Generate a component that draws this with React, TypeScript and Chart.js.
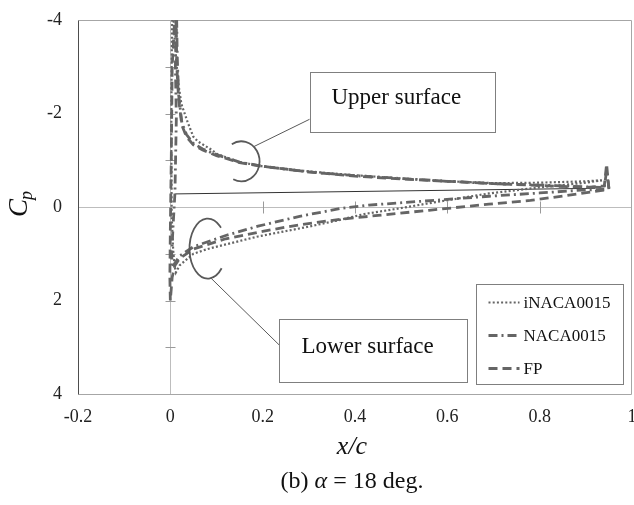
import React, { useEffect, useRef } from 'react';
import { Chart, registerables } from 'chart.js';

Chart.register(...registerables);

// ---------- data (x/c, Cp) ----------
const seriesLabels = ['iNACA0015', 'NACA0015', 'FP'];

const iNacaX = [0.935, 0.9, 0.8, 0.7, 0.6, 0.5, 0.4, 0.3, 0.2, 0.15, 0.1, 0.09, 0.06, 0.05, 0.038, 0.024, 0.018, 0.012, 0.008, 0.005, 0.003, 0.002, 0.003, 0.006, 0.009, 0.012, 0.02, 0.05, 0.08, 0.12, 0.19, 0.3, 0.37, 0.42, 0.49, 0.56, 0.69, 0.8, 0.9, 0.935];
const iNacaCp = [-0.57, -0.55, -0.52, -0.51, -0.55, -0.61, -0.68, -0.76, -0.87, -0.96, -1.14, -1.22, -1.4, -1.5, -1.8, -2.2, -2.6, -3.2, -3.8, -4.6, -3.2, -1.5, 0.2, 0.9, 1.25, 1.4, 1.25, 1.0, 0.9, 0.8, 0.63, 0.42, 0.27, 0.15, 0.04, -0.08, -0.29, -0.42, -0.52, -0.57];

const nacaX = [0.95, 0.945, 0.94, 0.9, 0.8, 0.7, 0.6, 0.5, 0.4, 0.3, 0.2, 0.15, 0.1, 0.07, 0.05, 0.035, 0.025, 0.018, 0.015, 0.013, 0.011, 0.013, 0.01, 0.006, 0.003, 0.004, 0.01, 0.02, 0.05, 0.12, 0.19, 0.28, 0.37, 0.43, 0.54, 0.69, 0.8, 0.89, 0.94];
const nacaCp = [-0.4, -0.78, -0.42, -0.43, -0.47, -0.5, -0.55, -0.61, -0.67, -0.75, -0.87, -0.96, -1.12, -1.24, -1.36, -1.55, -1.8, -2.4, -3.2, -4.5, -3.0, -1.9, -0.3, 0.4, 1.0, 1.3, 1.2, 1.05, 0.85, 0.61, 0.41, 0.2, 0.03, -0.04, -0.12, -0.23, -0.3, -0.36, -0.38];

const fpX = [0.95, 0.945, 0.94, 0.9, 0.8, 0.7, 0.6, 0.5, 0.4, 0.3, 0.2, 0.15, 0.1, 0.07, 0.05, 0.035, 0.025, 0.018, 0.014, 0.012, 0.004, 0.002, 0.0, -0.001, 0.0, 0.004, 0.01, 0.02, 0.05, 0.12, 0.2, 0.28, 0.37, 0.45, 0.56, 0.69, 0.78, 0.89, 0.94];
const fpCp = [-0.38, -0.92, -0.45, -0.42, -0.46, -0.5, -0.55, -0.6, -0.66, -0.75, -0.87, -0.95, -1.1, -1.22, -1.33, -1.5, -1.75, -2.3, -3.0, -4.5, -3.0, -1.0, 0.5, 1.5, 2.0, 1.5, 1.25, 1.1, 0.9, 0.68, 0.52, 0.38, 0.26, 0.18, 0.07, -0.06, -0.14, -0.29, -0.36];

const chordX = [0.011, 0.92];
const chordCp = [-0.28, -0.4];

const axisMarksCp = [-3, -2, -1, 1, 2, 3];
const axisMarksX = [0.2, 0.4, 0.6, 0.8];
const calloutLabels = ['Upper surface', 'Lower surface'];

// ---------- styles ----------
const FONT = '"Liberation Serif", "Times New Roman", serif';
const LINE = '#656565';

const callouts = [
  { box: [0.3015, 0.704, -2.88, -1.6], arc: [0.1536, -0.978], rx: 18.3, ry: 20, start: -121, end: 116, lead: -47, anchor: [0.3015, -1.876], textDx: 21, textDy: 31.5 },
  { box: [0.236, 0.642, 2.4, 3.75], arc: [0.0812, 0.89], rx: 18.3, ry: 30, start: 41, end: 316, lead: 80, anchor: [0.2365, 2.958], textDx: 22, textDy: 33 },
];

const pts = (xs: number[], ys: number[]) => xs.map((x, i) => ({ x, y: ys[i] }));
const fmt = (v: number) => String(Number(Number(v).toFixed(1)));

function seg(ctx: CanvasRenderingContext2D, x1: number, y1: number, x2: number, y2: number) {
  ctx.beginPath();
  ctx.moveTo(x1, y1);
  ctx.lineTo(x2, y2);
  ctx.stroke();
}

const decorPlugin = {
  id: 'decor',
  beforeDatasetsDraw(chart: any) {
    const { ctx, chartArea: a, scales } = chart;
    const xs = scales.x, ys = scales.y;
    const x0 = Math.round(xs.getPixelForValue(0)) + 0.5;
    const y0 = Math.round(ys.getPixelForValue(0)) + 0.5;
    ctx.save();
    ctx.lineWidth = 1;
    ctx.strokeStyle = '#bdbdbd';
    seg(ctx, a.left, y0, a.right, y0);
    seg(ctx, x0, a.top, x0, a.bottom);
    ctx.strokeStyle = '#9a9a9a';
    for (const v of axisMarksCp) {
      const p = Math.round(ys.getPixelForValue(v)) + 0.5;
      seg(ctx, x0 - 5, p, x0 + 5, p);
    }
    for (const v of axisMarksX) {
      const p = Math.round(xs.getPixelForValue(v)) + 0.5;
      seg(ctx, p, y0 - 6, p, y0 + 6);
    }
    const L = Math.round(a.left) + 0.5, R = Math.round(a.right) - 0.5;
    const T = Math.round(a.top) + 0.5, B = Math.round(a.bottom) + 0.5;
    ctx.strokeStyle = '#a6a6a6';
    seg(ctx, L, T, R, T);
    seg(ctx, R, T, R, B);
    seg(ctx, L, B, R, B);
    ctx.strokeStyle = '#4d4d4d';
    seg(ctx, L, T, L, B);
    ctx.restore();
  },
  afterDatasetsDraw(chart: any) {
    const { ctx, chartArea: a, scales } = chart;
    const xs = scales.x, ys = scales.y;
    ctx.save();
    // callouts
    callouts.forEach((c, i) => {
      const cx = xs.getPixelForValue(c.arc[0]);
      const cy = ys.getPixelForValue(c.arc[1]);
      const la = (c.lead * Math.PI) / 180;
      ctx.strokeStyle = '#595959';
      ctx.lineWidth = 1;
      seg(ctx, cx + c.rx * Math.cos(la), cy + c.ry * Math.sin(la), xs.getPixelForValue(c.anchor[0]), ys.getPixelForValue(c.anchor[1]));
      ctx.lineWidth = 1.8;
      ctx.beginPath();
      ctx.ellipse(cx, cy, c.rx, c.ry, 0, (c.start * Math.PI) / 180, (c.end * Math.PI) / 180, false);
      ctx.stroke();
      const x1 = Math.round(xs.getPixelForValue(c.box[0])) + 0.5;
      const x2 = Math.round(xs.getPixelForValue(c.box[1])) + 0.5;
      const y1 = Math.round(ys.getPixelForValue(c.box[2])) + 0.5;
      const y2 = Math.round(ys.getPixelForValue(c.box[3])) + 0.5;
      ctx.fillStyle = '#fff';
      ctx.fillRect(x1, y1, x2 - x1, y2 - y1);
      ctx.strokeStyle = '#7f7f7f';
      ctx.lineWidth = 1;
      ctx.strokeRect(x1, y1, x2 - x1, y2 - y1);
      ctx.fillStyle = '#111';
      ctx.font = `23px ${FONT}`;
      ctx.textAlign = 'left';
      ctx.textBaseline = 'alphabetic';
      ctx.fillText(calloutLabels[i], x1 + c.textDx, y1 + c.textDy);
    });

    // legend
    const lw = 147, lh = 100;
    const lx = Math.round(a.right - 9 - lw) + 0.5;
    const ly = Math.round(a.bottom - 10 - lh) + 0.5;
    ctx.fillStyle = '#fff';
    ctx.fillRect(lx, ly, lw, lh);
    ctx.strokeStyle = '#7f7f7f';
    ctx.lineWidth = 1;
    ctx.setLineDash([]);
    ctx.strokeRect(lx, ly, lw, lh);
    chart.data.datasets.slice(0, 3).forEach((ds: any, i: number) => {
      const ry = ly + 18 + i * 33;
      ctx.strokeStyle = ds.borderColor;
      ctx.lineWidth = ds.borderWidth;
      ctx.setLineDash(ds.borderDash || []);
      seg(ctx, lx + 12, ry, lx + 43, ry);
      ctx.setLineDash([]);
      ctx.fillStyle = '#111';
      ctx.font = `17px ${FONT}`;
      ctx.textAlign = 'left';
      ctx.textBaseline = 'middle';
      ctx.fillText(ds.label, lx + 47, ry + 1);
    });

    // y title C_p
    ctx.save();
    ctx.translate(a.left - 51, ys.getPixelForValue(0) + 10);
    ctx.rotate(-Math.PI / 2);
    ctx.fillStyle = '#111';
    ctx.textAlign = 'left';
    ctx.textBaseline = 'alphabetic';
    ctx.font = `italic 27px ${FONT}`;
    ctx.fillText('C', 0, 0);
    const cw = ctx.measureText('C').width;
    ctx.font = `italic 18px ${FONT}`;
    ctx.fillText('p', cw - 1, 5);
    ctx.restore();

    // x title and caption
    const mid = (a.left + a.right) / 2 - 3;
    ctx.fillStyle = '#111';
    ctx.textBaseline = 'alphabetic';
    ctx.textAlign = 'center';
    ctx.font = `italic 26px ${FONT}`;
    ctx.fillText('x/c', mid, a.bottom + 60);
    const parts: [string, string][] = [
      ['(b) ', `24px ${FONT}`],
      ['α', `italic 24px ${FONT}`],
      [' = 18 deg.', `24px ${FONT}`],
    ];
    let total = 0;
    parts.forEach(([t, f]) => { ctx.font = f; total += ctx.measureText(t).width; });
    let px = mid - total / 2;
    ctx.textAlign = 'left';
    parts.forEach(([t, f]) => {
      ctx.font = f;
      ctx.fillText(t, px, a.bottom + 94);
      px += ctx.measureText(t).width;
    });
    ctx.restore();
  },
};

export default function App() {
  const ref = useRef<HTMLCanvasElement | null>(null);
  useEffect(() => {
    document.body.style.margin = '0';
    if (!ref.current) return;
    const chart = new Chart(ref.current, {
      type: 'line',
      data: {
        datasets: [
          { label: seriesLabels[0], data: pts(iNacaX, iNacaCp), borderColor: LINE, borderWidth: 2.2, borderDash: [2, 2.2], pointRadius: 0, tension: 0, fill: false },
          { label: seriesLabels[1], data: pts(nacaX, nacaCp), borderColor: LINE, borderWidth: 2.8, borderDash: [9, 4, 2, 4], pointRadius: 0, tension: 0, fill: false },
          { label: seriesLabels[2], data: pts(fpX, fpCp), borderColor: LINE, borderWidth: 2.8, borderDash: [9, 5], pointRadius: 0, tension: 0, fill: false },
          { label: 'chord', data: pts(chordX, chordCp), borderColor: '#333', borderWidth: 1, pointRadius: 0, tension: 0, fill: false },
        ] as any,
      },
      options: {
        animation: false,
        responsive: true,
        maintainAspectRatio: false,
        layout: { padding: { top: 20, right: 2, left: 0, bottom: 0 } },
        plugins: { legend: { display: false }, tooltip: { enabled: false }, title: { display: false } },
        scales: {
          x: {
            type: 'linear', min: -0.2, max: 1,
            ticks: { stepSize: 0.2, color: '#222', padding: 4, maxRotation: 0, autoSkip: false, font: { family: FONT, size: 18 }, callback: (v: any) => fmt(v) },
            grid: { display: false }, border: { display: false },
            afterFit: (s: any) => { s.height = 111; s.paddingLeft = 0; s.paddingRight = 0; },
          },
          y: {
            type: 'linear', reverse: true, min: -4, max: 4,
            ticks: { stepSize: 2, color: '#222', padding: 8, font: { family: FONT, size: 18 }, callback: (v: any) => fmt(v) },
            grid: { display: false }, border: { display: false },
            afterFit: (s: any) => { s.width = 78; s.paddingTop = 0; s.paddingBottom = 0; },
          },
        },
      } as any,
      plugins: [decorPlugin],
    });
    return () => chart.destroy();
  }, []);
  return (
    <div style={{ width: 634, height: 505, position: 'relative', background: '#fff' }}>
      <canvas ref={ref} />
    </div>
  );
}
